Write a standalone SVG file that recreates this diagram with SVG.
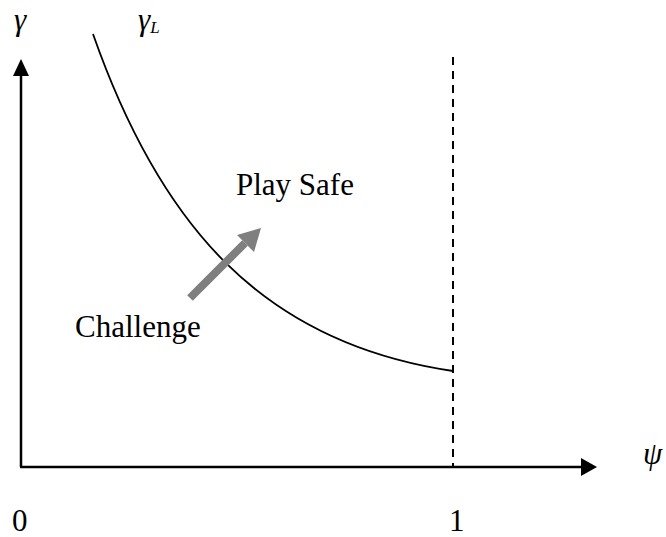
<svg xmlns="http://www.w3.org/2000/svg" width="666" height="537" viewBox="0 0 666 537">
<style>
.t{font-family:"Liberation Serif","Times New Roman",serif;font-size:31px;fill:#000}
.i{font-style:italic}
.ax{stroke:#000;stroke-width:2.5;fill:none}
</style>
<rect width="666" height="537" fill="#fff"/>
<g id="axes">
<line class="ax" x1="21" y1="467" x2="21" y2="74"/>
<polygon points="21,59 13,76 29,76" fill="#000"/>
<line class="ax" x1="20" y1="467" x2="583" y2="467"/>
<polygon points="597,467 581,458 581,476" fill="#000"/>
</g>
<g id="boundary">
<line x1="453" y1="57" x2="453" y2="467" stroke="#000" stroke-width="2" stroke-dasharray="8,6"/>
</g>
<g id="curve">
<path d="M93,34 C160,225 262,343 453,371" fill="none" stroke="#000" stroke-width="1.8"/>
</g>
<g id="move-arrow">
<line x1="190" y1="298" x2="245" y2="243" stroke="#7f7f7f" stroke-width="8"/>
<polygon points="261,228 237,235 254,252" fill="#7f7f7f"/>
</g>
<g id="labels">
<text class="t i" x="14" y="30">γ</text>
<text class="t i" x="138" y="30">γ<tspan font-size="17" dy="3">L</tspan></text>
<text class="t" x="236" y="195">Play Safe</text>
<text class="t" x="75" y="337">Challenge</text>
<text class="t i" x="643" y="464">ψ</text>
<text class="t" x="12" y="531">0</text>
<text class="t" x="449" y="531">1</text>
</g>
</svg>
